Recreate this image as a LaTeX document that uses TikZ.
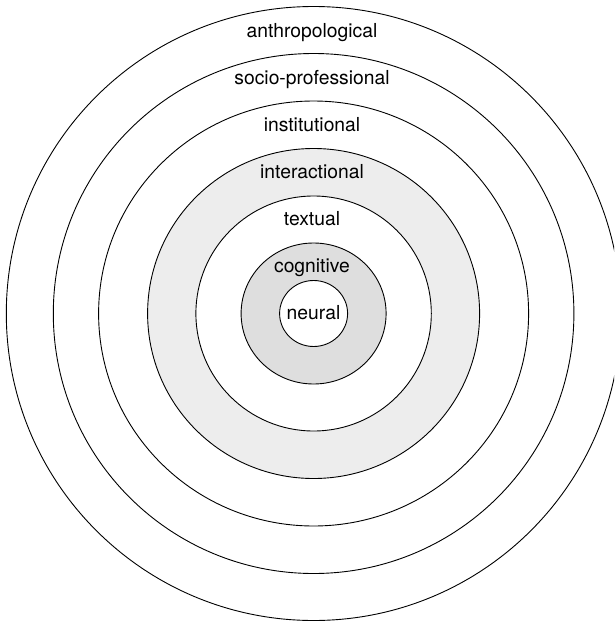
\documentclass[tikz,border=0pt]{standalone}
\usepackage{fontspec}
\setmainfont{TeX Gyre Heros}
\begin{document}
\begin{tikzpicture}[x=1pt,y=-1pt,
  ring/.style={draw=black,line width=0.9pt},
  lab/.style={anchor=base,font=\fontsize{19.3}{21}\selectfont,inner sep=0pt}]
\useasboundingbox (0,0) rectangle (614,621);
\clip (0,0) rectangle (614,621);
\fill[white] (0,0) rectangle (614,621);
\coordinate (c) at (313.6,313.5);
\draw[ring,fill=white] (c) ellipse [x radius=307.3,y radius=307];
\draw[ring,fill=white] (c) ellipse [x radius=260.3,y radius=260];
\draw[ring,fill=white] (c) ellipse [x radius=215,y radius=212.5];
\draw[ring,fill=black!7] (c) ellipse [x radius=166,y radius=165];
\draw[ring,fill=white] (c) ellipse [x radius=117.7,y radius=117.5];
\draw[ring,fill=black!13] (c) ellipse [x radius=72.5,y radius=70.5];
\draw[ring,fill=white] (c) ellipse [x radius=34,y radius=33];
\node[lab] (anth) at (312,37.7) {anthropological};
\node[lab] (socio) at (312,84.7) {socio-professional};
\node[lab] (inst) at (312,131.7) {institutional};
\node[lab] (inter) at (312,178.7) {interactional};
\node[lab] (text) at (312,225.7) {textual};
\node[lab] (cogn) at (312,272.5) {cognitive};
\node[lab] (neur) at (313.5,319.5) {neural};
\end{tikzpicture}
\end{document}
